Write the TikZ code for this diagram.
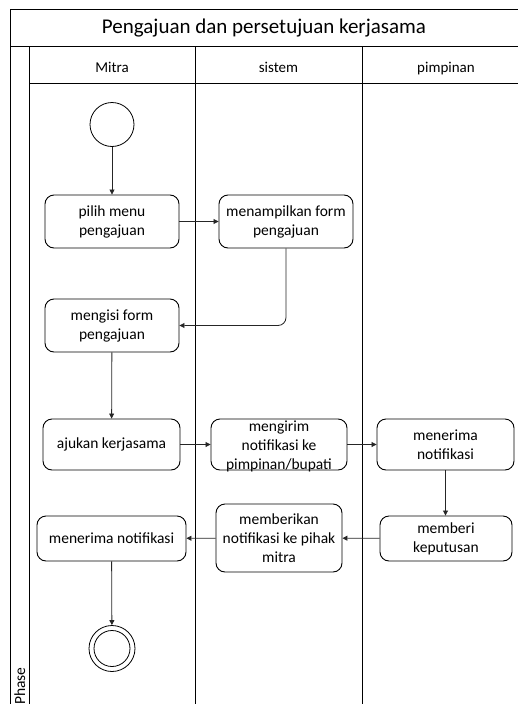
\documentclass[tikz,border=0pt]{standalone}
\usepackage{fontspec}
\setmainfont{Carlito}
\usetikzlibrary{arrows.meta}
\newcommand{\boxfont}{\fontsize{15.5}{19}\selectfont}
\begin{document}
\begin{tikzpicture}[x=1pt,y=-1pt,
  frame/.style={draw=black,line width=1pt},
  act/.style={draw=black,line width=0.9pt,rounded corners=9pt,inner sep=0pt,align=center,font=\boxfont},
  lbl/.style={inner sep=0pt,align=center,font=\boxfont},
  hdr/.style={inner sep=0pt,anchor=base,font=\fontsize{15}{18}\selectfont},
  flow/.style={draw=black!85,line width=0.8pt,-{Triangle[length=5pt,width=5pt]}},
  initial/.style={circle,draw=black,line width=0.8pt,minimum size=44pt,inner sep=0pt},
  finalo/.style={circle,draw=black,line width=0.8pt,minimum size=46pt,inner sep=0pt},
  finali/.style={circle,draw=black,line width=0.8pt,minimum size=36pt,inner sep=0pt}]
\useasboundingbox (0,0) rectangle (518,704);
% frame and lanes
\draw[frame] (518,9.5) -- (10,9.5) -- (10,704);
\draw[frame] (10,46.5) -- (518,46.5);
\draw[frame] (29,46.5) -- (29,704);
\draw[frame] (29,83.5) -- (518,83.5);
\draw[frame] (195,46.5) -- (195,704);
\draw[frame] (362,46.5) -- (362,704);
\node[inner sep=0pt,font=\fontsize{21}{25}\selectfont] (title) at (264,28) {Pengajuan dan persetujuan kerjasama};
\node[hdr] (hmitra) at (112,72) {Mitra};
\node[hdr] (hsistem) at (278.5,72) {sistem};
\node[hdr] (hpimpinan) at (446,72) {pimpinan};
\node[inner sep=0pt,font=\boxfont,rotate=90,anchor=base west] (phase) at (25,705) {Phase};
% nodes
\node[initial] (start) at (112,124.5) {};
\node[act,minimum width=134pt,minimum height=53pt] (pilih) at (112,221.5) {pilih menu\\pengajuan};
\node[act,minimum width=134pt,minimum height=53pt] (tampil) at (286,221.5) {menampilkan form\\pengajuan};
\node[act,minimum width=134pt,minimum height=53pt] (isi) at (112,325.5) {mengisi form\\pengajuan};
\node[act,minimum width=137pt,minimum height=51pt] (ajukan) at (111.5,444.5) {ajukan kerjasama};
\node[act,minimum width=136pt,minimum height=51pt] (kirim) at (279,444.5) {};
\node[lbl] (kirimtxt) at (279,446) {mengirim\\notifikasi ke\\pimpinan/bupati};
\node[act,minimum width=137pt,minimum height=51pt] (terimaP) at (445.5,444.5) {menerima\\notifikasi};
\node[act,minimum width=132pt,minimum height=45pt] (putus) at (446,538.5) {memberi\\keputusan};
\node[act,minimum width=126pt,minimum height=68pt] (beri) at (279,538) {memberikan\\notifikasi ke pihak\\mitra};
\node[act,minimum width=149pt,minimum height=45pt] (terimaM) at (111.5,538.5) {menerima notifikasi};
\node[finalo] (end) at (112,648.5) {};
\node[finali] (endin) at (112,648.5) {};
% flows
\draw[flow] (start) -- (pilih);
\draw[flow] (pilih) -- (tampil);
\draw[flow,rounded corners=8pt] (tampil.south) |- (isi.east);
\draw[flow] (isi) -- (ajukan);
\draw[flow] (ajukan) -- (kirim);
\draw[flow] (kirim) -- (terimaP);
\draw[flow] (terimaP.south) -- (putus.north -| terimaP.south);
\draw[flow] (putus) -- (beri);
\draw[flow] (beri) -- (terimaM);
\draw[flow] (terimaM) -- (end);
\end{tikzpicture}
\end{document}
